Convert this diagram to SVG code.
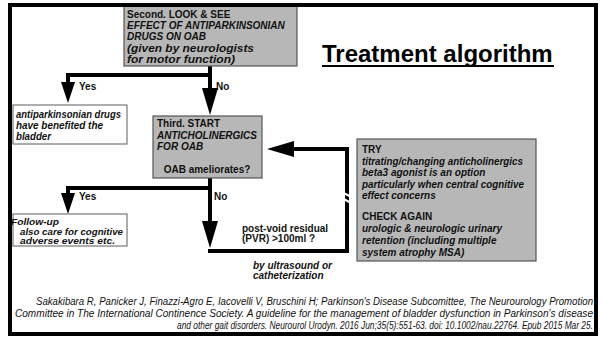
<svg xmlns="http://www.w3.org/2000/svg" width="605" height="337" viewBox="0 0 605 337">
  <defs>
    <style>
      .t { font-family: "Liberation Sans", Arial, sans-serif; font-size: 10px; font-weight: bold; fill: #111; }
      .i { font-style: italic; }
      .sm { font-size: 9.5px; }
      .gray { fill: #b7b7b7; stroke: #555; stroke-width: 1.2; }
      .white { fill: #fff; stroke: #777; stroke-width: 1.2; }
      .wire { fill: none; stroke: #000; stroke-width: 4; }
      .cite { font-family: "Liberation Sans", Arial, sans-serif; font-size: 10px; font-style: italic; fill: #111; }
    </style>
    <marker id="headS" markerUnits="userSpaceOnUse" markerWidth="21" markerHeight="14" viewBox="0 0 21 14" refX="0" refY="7" orient="auto">
      <path d="M0,0 L21,7 L0,14 Z" fill="#000"/>
    </marker>
    <marker id="headL" markerUnits="userSpaceOnUse" markerWidth="27" markerHeight="16" viewBox="0 0 27 16" refX="0" refY="8" orient="auto">
      <path d="M0,0 L27,8 L0,16 Z" fill="#000"/>
    </marker>
  </defs>

  <rect x="0" y="0" width="605" height="337" fill="#fff"/>

  <!-- connectors -->
  <g id="connectors" class="wire">
    <path d="M210,66 V75"/>
    <path d="M66,75 H212"/>
    <path d="M68,75 V82" marker-end="url(#headS)"/>
    <path d="M210,75 V88" marker-end="url(#headL)"/>
    <path d="M210,178 V188"/>
    <path d="M66,188 H212"/>
    <path d="M68,188 V193" marker-end="url(#headS)"/>
    <path d="M210,188 V221" marker-end="url(#headL)"/>
    <path d="M208,251 H347 V149 H294" marker-end="url(#headL)"/>
    <!-- break on the return line -->
    <g stroke="#fff" stroke-width="2">
      <line x1="340" y1="191" x2="353" y2="198"/>
      <line x1="340" y1="197" x2="353" y2="204"/>
    </g>
  </g>

  <g id="labels" class="t">
    <text x="79" y="90">Yes</text>
    <text x="216" y="90">No</text>
    <text x="79" y="200">Yes</text>
    <text x="214" y="200">No</text>
  </g>

  <g id="second">
    <rect class="gray" x="124" y="4" width="173" height="62"/>
    <text class="t" x="127" y="17.5">Second. LOOK &amp; SEE</text>
    <text class="t i" x="127" y="29">EFFECT OF ANTIPARKINSONIAN</text>
    <text class="t i" x="127" y="40">DRUGS ON OAB</text>
    <text class="t i" x="127" y="52" textLength="127" lengthAdjust="spacingAndGlyphs">(given by neurologists</text>
    <text class="t i" x="127" y="62.5" textLength="108" lengthAdjust="spacingAndGlyphs">for motor function)</text>
  </g>

  <g id="title">
    <text x="322" y="62" font-family="Liberation Sans, Arial, sans-serif" font-size="24" font-weight="bold" fill="#000">Treatment algorithm</text>
    <line x1="322" y1="66" x2="554" y2="66" stroke="#000" stroke-width="1.8"/>
  </g>

  <g id="benefit">
    <rect class="white" x="13" y="105" width="114" height="39"/>
    <text class="t i" x="16" y="118" textLength="105" lengthAdjust="spacingAndGlyphs">antiparkinsonian drugs</text>
    <text class="t i" x="16" y="129" textLength="87" lengthAdjust="spacingAndGlyphs">have benefited the</text>
    <text class="t i" x="16" y="140" textLength="35" lengthAdjust="spacingAndGlyphs">bladder</text>
  </g>

  <g id="third">
    <rect class="gray" x="153" y="116" width="109" height="62"/>
    <text class="t" x="157" y="127">Third. START</text>
    <text class="t i" x="157" y="139">ANTICHOLINERGICS</text>
    <text class="t i" x="157" y="150">FOR OAB</text>
    <text class="t" x="207" y="173" text-anchor="middle">OAB ameliorates?</text>
  </g>

  <g id="try">
    <rect class="gray" x="357" y="139" width="179" height="122"/>
    <text class="t" x="362" y="153">TRY</text>
    <text class="t i" x="362" y="165" textLength="161" lengthAdjust="spacingAndGlyphs">titrating/changing anticholinergics</text>
    <text class="t i" x="362" y="176">beta3 agonist is an option</text>
    <text class="t i" x="362" y="188" textLength="162" lengthAdjust="spacingAndGlyphs">particularly when central cognitive</text>
    <text class="t i" x="362" y="199">effect concerns</text>
    <text class="t" x="362" y="220">CHECK AGAIN</text>
    <text class="t i" x="362" y="232">urologic &amp; neurologic urinary</text>
    <text class="t i" x="362" y="244">retention (including multiple</text>
    <text class="t i" x="362" y="256">system atrophy MSA)</text>
  </g>

  <g id="followup">
    <rect class="white" x="13" y="214" width="114" height="32"/>
    <text class="t i sm" x="11" y="224.5" textLength="48" lengthAdjust="spacingAndGlyphs">Follow-up</text>
    <text class="t i sm" x="20" y="234.5" textLength="103" lengthAdjust="spacingAndGlyphs">also care for cognitive</text>
    <text class="t i sm" x="20" y="244" textLength="95" lengthAdjust="spacingAndGlyphs">adverse events etc.</text>
  </g>

  <g id="pvr">
    <text class="t" x="242" y="232">post-void residual</text>
    <text class="t" x="242" y="242">(PVR) &gt;100ml ?</text>
    <text class="t i" x="253" y="269">by ultrasound or</text>
    <text class="t i" x="253" y="279">catheterization</text>
  </g>

  <g id="citation" class="cite">
    <text x="36" y="305" textLength="557" lengthAdjust="spacingAndGlyphs">Sakakibara R, Panicker J, Finazzi-Agro E, Iacovelli V, Bruschini H; Parkinson's Disease Subcomittee, The Neurourology Promotion</text>
    <text x="15" y="317" textLength="578" lengthAdjust="spacingAndGlyphs">Committee in The International Continence Society. A guideline for the management of bladder dysfunction in Parkinson's disease</text>
    <text x="177" y="329" textLength="416" lengthAdjust="spacingAndGlyphs">and other gait disorders. Neurourol Urodyn. 2016 Jun;35(5):551-63. doi: 10.1002/nau.22764. Epub 2015 Mar 25.</text>
  </g>

  <rect id="frame" x="10" y="5" width="586" height="329" fill="none" stroke="#000" stroke-width="4"/>
</svg>
